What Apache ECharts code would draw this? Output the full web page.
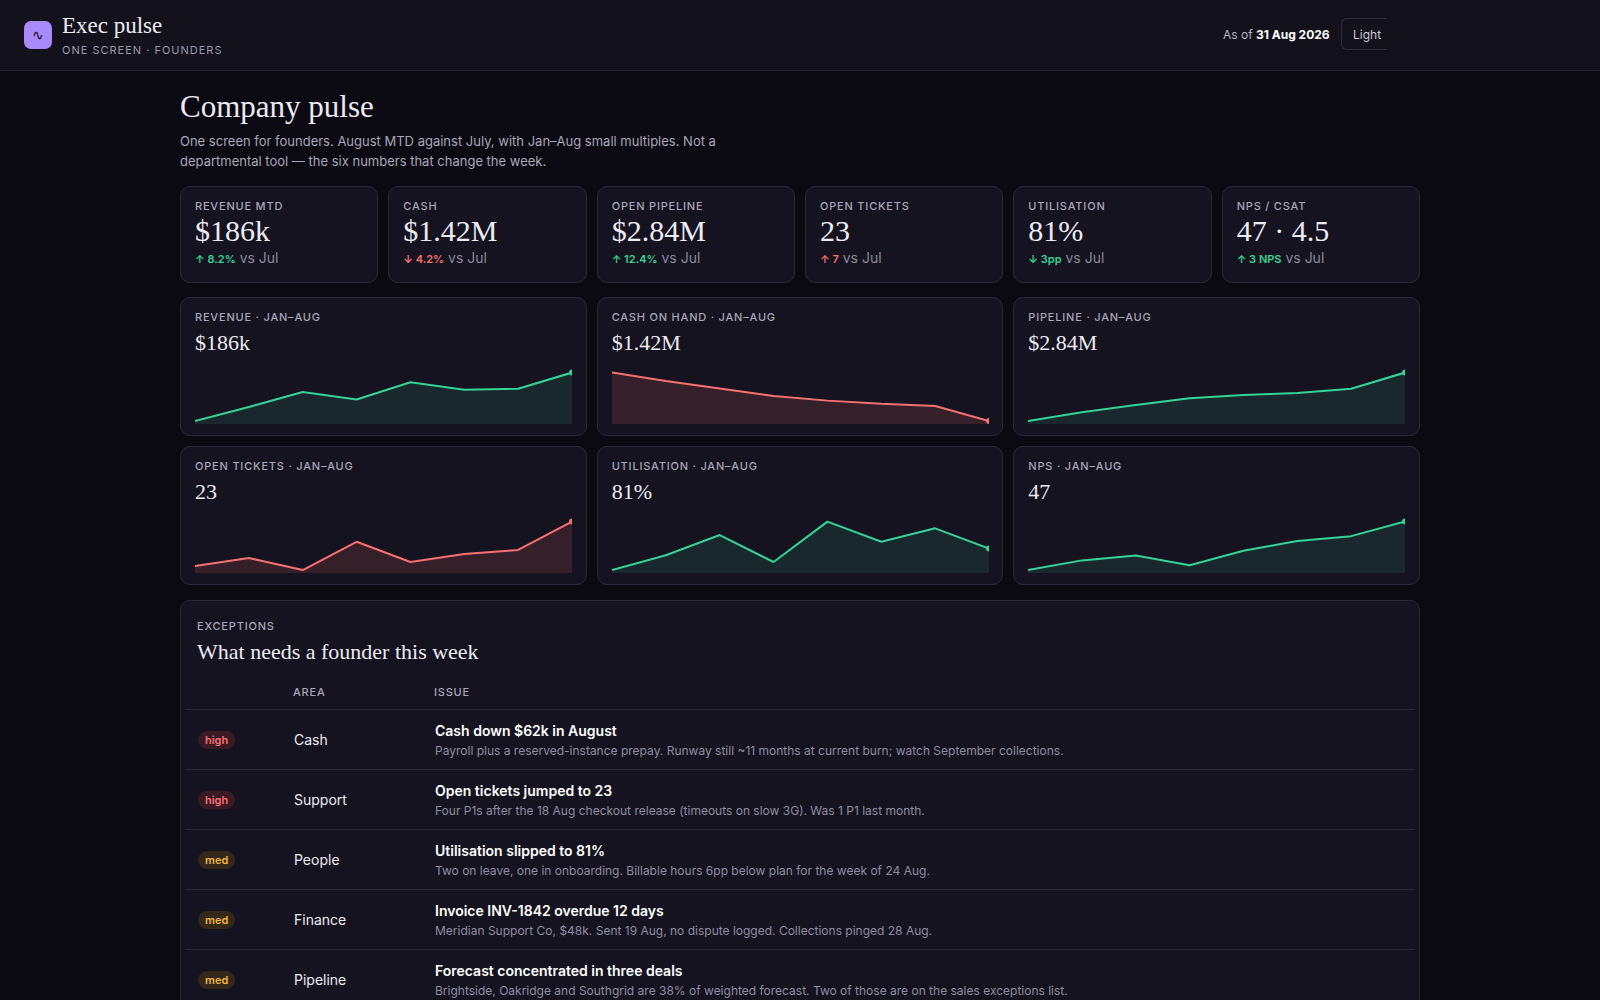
<!DOCTYPE html>
<html>
<head>
<meta charset="utf-8">
<script src="https://cdn.jsdelivr.net/npm/echarts@6/dist/echarts.min.js"></script>
<style>
    body { margin: 0; background: #0b0a12; color: #ecebf3; font-family: Inter, "Noto Sans", sans-serif; width: 1600px; height: 1000px; overflow: hidden; }
    .top { height: 70px; background: #13121c; border-bottom: 1px solid #262433; position: relative; }
    .logo { position: absolute; left: 24px; top: 21px; width: 28px; height: 28px; border-radius: 7px; background: #a78bfa; color: #1a1030; font-size: 14px; text-align: center; line-height: 28px; }
    .brand { position: absolute; left: 62px; top: 13px; font-family: "Liberation Serif", serif; font-size: 23px; }
    .brandsub { position: absolute; left: 62px; top: 43px; font-size: 11px; letter-spacing: 1px; color: #9a98aa; }
    .asof { position: absolute; left: 1223px; top: 27px; font-size: 12px; color: #b3b1c2; }
    .asof b { color: #fff; }
    .light { position: absolute; left: 1341px; top: 18px; width: 46px; height: 32px; border: 1px solid #2e2c3c; border-right: none; border-radius: 6px 0 0 6px; font-size: 12px; color: #c9c7d6; line-height: 32px; padding-left: 11px; box-sizing: border-box; }
    .wrap { position: absolute; left: 180px; top: 71px; width: 1240px; }
    h1 { font-family: "Liberation Serif", serif; font-weight: normal; font-size: 31px; margin: 18px 0 6px 0; }
    .lede { font-size: 13px; color: #a9a7b8; line-height: 20px; width: 575px; }
    .kpis { display: grid; grid-template-columns: repeat(6, 1fr); gap: 10px; margin-top: 15px; }
    .card { background: #15131f; border: 1px solid #2a2838; border-radius: 10px; box-sizing: border-box; padding: 12px 14px; }
    .kpis .card { height: 97px; }
    .lab { font-size: 11px; letter-spacing: 0.8px; color: #a8a6b8; font-weight: 500; }
    .val { font-family: "Liberation Serif", serif; font-size: 30px; margin-top: 1px; }
    .delta { font-size: 14px; color: #8a889a; margin-top: 1px; }
    .delta span { font-size: 11px; font-weight: 600; }
    .up { color: #34d399; }
    .dn { color: #f87171; }
    .sparks { display: grid; grid-template-columns: repeat(3, 1fr); gap: 10px 10px; margin-top: 14px; }
    .sparks .card { height: 139px; position: relative; }
    .sval { font-family: "Liberation Serif", serif; font-size: 22px; margin-top: 6px; }
    .chart { position: absolute; left: 14px; right: 14px; top: 70px; height: 60px; }
    .exc { margin-top: 15px; height: 500px; padding: 18px 4px 0 4px; }
    .exc h2 { font-family: "Liberation Serif", serif; font-weight: normal; font-size: 22px; margin: 6px 0 14px 12px; }
    table { border-collapse: collapse; width: 100%; }
    th { text-align: left; font-size: 11px; letter-spacing: 0.8px; color: #a8a6b8; font-weight: 500; padding: 6px 0 10px 0; border-bottom: 1px solid #2a2838; }
    td { border-bottom: 1px solid #2a2838; height: 57px; vertical-align: middle; font-size: 14px; }
    .badge { display: inline-block; font-size: 11px; font-weight: 600; padding: 2px 7px; border-radius: 9px; margin-left: 12px; }
    .high { background: #3a1b24; color: #f87171; }
    .med { background: #33281a; color: #f4b63f; }
    .it { font-weight: 600; font-size: 14px; color: #fff; }
    .id { font-size: 12px; color: #8f8da0; margin-top: 4px; }
</style>
</head>
<body>
<div class="top">
    <div class="logo">∿</div>
    <div class="brand">Exec pulse</div>
    <div class="brandsub">ONE SCREEN · FOUNDERS</div>
    <div class="asof">As of <b>31 Aug 2026</b></div>
    <div class="light">Light</div>
</div>
<div class="wrap">
    <h1>Company pulse</h1>
    <div class="lede">One screen for founders. August MTD against July, with Jan–Aug small multiples. Not a departmental tool — the six numbers that change the week.</div>
    <div class="kpis" id="kpis"></div>
    <div class="sparks" id="sparks"></div>
    <div class="card exc">
        <div class="lab" style="margin-left:12px">EXCEPTIONS</div>
        <h2>What needs a founder this week</h2>
        <table id="tbl">
            <tr><th style="width:108px"></th><th style="width:141px">AREA</th><th>ISSUE</th></tr>
        </table>
    </div>
</div>
<script>
// headline numbers
var kpiLabels = ["REVENUE MTD", "CASH", "OPEN PIPELINE", "OPEN TICKETS", "UTILISATION", "NPS / CSAT"];
var kpiValues = ["$186k", "$1.42M", "$2.84M", "23", "81%", "47 · 4.5"];
var kpiDeltas = ["8.2%", "4.2%", "12.4%", "7", "3pp", "3 NPS"];
var kpiDirs = ["up", "down", "up", "up", "down", "up"];
var kpiGood = [true, false, true, false, true, true];

// Jan-Aug small multiples
var months = ["Jan", "Feb", "Mar", "Apr", "May", "Jun", "Jul", "Aug"];
var revenue = [141, 154, 168, 161, 177, 170, 171, 186];
var cash = [2.06, 1.95, 1.85, 1.75, 1.69, 1.65, 1.62, 1.42];
var pipeline = [1.91, 2.08, 2.22, 2.35, 2.41, 2.45, 2.53, 2.84];
var tickets = [12, 14, 11, 18, 13, 15, 16, 23];
var utilisation = [77.8, 80, 83, 79, 85, 82, 84, 81];
var nps = [37, 39, 40, 38, 41, 43, 44, 47];

var sparkTitles = ["REVENUE · JAN–AUG", "CASH ON HAND · JAN–AUG", "PIPELINE · JAN–AUG", "OPEN TICKETS · JAN–AUG", "UTILISATION · JAN–AUG", "NPS · JAN–AUG"];
var sparkValues = ["$186k", "$1.42M", "$2.84M", "23", "81%", "47"];
var sparkData = [revenue, cash, pipeline, tickets, utilisation, nps];
var sparkBad = [false, true, false, true, false, false];

var severity = ["high", "high", "med", "med", "med"];
var areas = ["Cash", "Support", "People", "Finance", "Pipeline"];
var issues = ["Cash down $62k in August", "Open tickets jumped to 23", "Utilisation slipped to 81%", "Invoice INV-1842 overdue 12 days", "Forecast concentrated in three deals"];
var details = [
    "Payroll plus a reserved-instance prepay. Runway still ~11 months at current burn; watch September collections.",
    "Four P1s after the 18 Aug checkout release (timeouts on slow 3G). Was 1 P1 last month.",
    "Two on leave, one in onboarding. Billable hours 6pp below plan for the week of 24 Aug.",
    "Meridian Support Co, $48k. Sent 19 Aug, no dispute logged. Collections pinged 28 Aug.",
    "Brightside, Oakridge and Southgrid are 38% of weighted forecast. Two of those are on the sales exceptions list."
];

var html = "";
for (var i = 0; i < kpiLabels.length; i++) {
    var cls = kpiGood[i] ? "up" : "dn";
    var arrow = kpiDirs[i] == "up" ? "↑" : "↓";
    html += '<div class="card"><div class="lab">' + kpiLabels[i] + '</div><div class="val">' + kpiValues[i] +
        '</div><div class="delta"><span class="' + cls + '">' + arrow + ' ' + kpiDeltas[i] + '</span> vs Jul</div></div>';
}
document.getElementById("kpis").innerHTML = html;

html = "";
for (var i = 0; i < sparkTitles.length; i++) {
    html += '<div class="card"><div class="lab">' + sparkTitles[i] + '</div><div class="sval">' + sparkValues[i] +
        '</div><div class="chart" id="spark' + i + '"></div></div>';
}
document.getElementById("sparks").innerHTML = html;

for (var i = 0; i < sparkData.length; i++) {
    var data = sparkData[i];
    var color = sparkBad[i] ? "#f87171" : "#34d399";
    var fill = sparkBad[i] ? "rgba(248,113,113,0.2)" : "rgba(52,211,153,0.16)";
    var lo = Math.min.apply(null, data), hi = Math.max.apply(null, data);
    var pad = (hi - lo) * 0.06;
    var chart = echarts.init(document.getElementById("spark" + i));
    chart.setOption({
        animation: false,
        grid: { left: 0, right: 0, top: 4, bottom: 4 },
        xAxis: { type: "category", data: months, boundaryGap: false, show: false },
        yAxis: { type: "value", min: lo - pad, max: hi + pad * 0.2, show: false },
        series: [{
            type: "line",
            data: data,
            lineStyle: { color: color, width: 2 },
            areaStyle: { color: fill, origin: "start" },
            symbol: "circle",
            symbolSize: function (v, p) { return p.dataIndex == data.length - 1 ? 6 : 0; },
            itemStyle: { color: color },
            showAllSymbol: true
        }]
    });
}

var rows = "";
for (var i = 0; i < areas.length; i++) {
    rows += '<tr><td><span class="badge ' + severity[i] + '">' + severity[i] + '</span></td><td>' + areas[i] +
        '</td><td><div class="it">' + issues[i] + '</div><div class="id">' + details[i] + '</div></td></tr>';
}
document.getElementById("tbl").innerHTML += rows;
</script>
</body>
</html>
